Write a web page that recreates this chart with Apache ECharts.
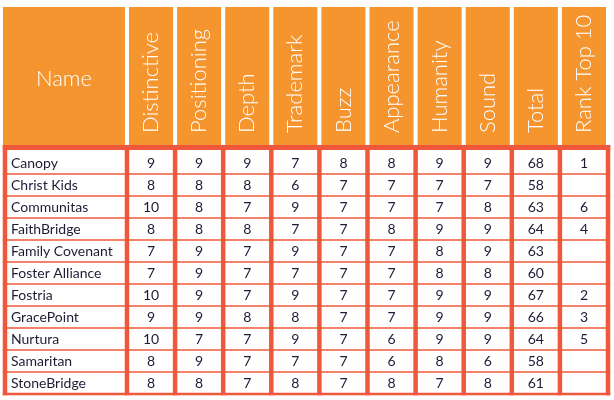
<!DOCTYPE html>
<html>
<head>
<meta charset="utf-8">
<style>
  html, body { margin: 0; padding: 0; background: #fff; }
  #chart { width: 614px; height: 400px; }
</style>
<script src="https://cdn.jsdelivr.net/npm/echarts@6/dist/echarts.min.js"></script>
</head>
<body>
<div id="chart"></div>
<script>
const names = ['Canopy', 'Christ Kids', 'Communitas', 'FaithBridge', 'Family Covenant',
  'Foster Alliance', 'Fostria', 'GracePoint', 'Nurtura', 'Samaritan', 'StoneBridge'];
const columns = ['Distinctive', 'Positioning', 'Depth', 'Trademark', 'Buzz',
  'Appearance', 'Humanity', 'Sound', 'Total', 'Rank Top 10'];

const distinctive = [9, 8, 10, 8, 7, 7, 10, 9, 10, 8, 8];
const positioning = [9, 8, 8, 8, 9, 9, 9, 9, 7, 9, 8];
const depth       = [9, 8, 7, 8, 7, 7, 7, 8, 7, 7, 7];
const trademark   = [7, 6, 9, 7, 9, 7, 9, 8, 9, 7, 8];
const buzz        = [8, 7, 7, 7, 7, 7, 7, 7, 7, 7, 7];
const appearance  = [8, 7, 7, 8, 7, 7, 7, 7, 6, 6, 8];
const humanity    = [9, 7, 7, 9, 8, 8, 9, 9, 9, 8, 7];
const sound       = [9, 7, 8, 9, 9, 8, 9, 9, 9, 6, 8];
const total       = [68, 58, 63, 64, 63, 60, 67, 66, 64, 58, 61];
const rankTop10   = [1, null, 6, 4, null, null, 2, 3, 5, null, null];

const valueCols = [distinctive, positioning, depth, trademark, buzz,
  appearance, humanity, sound, total, rankTop10];

const ORANGE = '#f4952f';
const RED = '#ef583a';
const INK = '#1c1c34';
const NAME_W = 2.536; // name column width, in score-column units

// one entry per table cell: [column, row, text]; column -1 is the name column
const cells = [];
names.forEach((n, r) => {
  cells.push([-1, r, n]);
  valueCols.forEach((col, c) => {
    if (col[r] != null) cells.push([c, r, String(col[r])]);
  });
});

function colEdges(c) {
  return c < 0 ? [-NAME_W, 0] : [c, c + 1];
}

function txtStyle(text, font, align) {
  return {
    text: text, fill: font.fill, font: font.font,
    align: align, verticalAlign: 'middle',
    textAlign: align, textVerticalAlign: 'middle'
  };
}

const chart = echarts.init(document.getElementById('chart'));

chart.setOption({
  animation: false,
  grid: [
    { left: 5, right: 6, top: 7, height: 138 },
    { left: 5, right: 6, top: 152, height: 242 }
  ],
  xAxis: [
    { gridIndex: 0, type: 'value', min: -NAME_W, max: 10, show: false },
    { gridIndex: 1, type: 'value', min: -NAME_W, max: 10, show: false }
  ],
  yAxis: [
    { gridIndex: 0, type: 'value', min: 0, max: 1, show: false },
    { gridIndex: 1, type: 'value', min: 0, max: names.length, inverse: true, show: false }
  ],
  series: [
    {
      // header cells
      type: 'custom',
      xAxisIndex: 0, yAxisIndex: 0,
      data: [-1].concat(columns.map((_, i) => i)).map(c => [c]),
      renderItem: function (params, api) {
        const c = api.value(0);
        const e = colEdges(c);
        const x0 = api.coord([e[0], 0])[0] + (c < 0 ? -2 : 2);
        const x1 = api.coord([e[1], 0])[0] - 2;
        const top = api.coord([0, 1])[1];
        const bottom = api.coord([0, 0])[1];
        const label = c < 0 ? 'Name' : columns[c];
        const font = { fill: '#fff', font: '300 22px Lato' };
        let text;
        if (c < 0) {
          text = { type: 'text', x: (x0 + x1) / 2, y: (top + bottom) / 2 + 3,
            style: txtStyle(label, font, 'center') };
        } else {
          text = { type: 'text', x: (x0 + x1) / 2, y: bottom - 12, rotation: Math.PI / 2,
            style: txtStyle(label, font, 'left') };
        }
        return {
          type: 'group',
          children: [
            { type: 'rect', shape: { x: x0, y: top, width: x1 - x0, height: bottom - top },
              style: { fill: ORANGE } },
            text
          ]
        };
      }
    },
    {
      // horizontal rules
      type: 'custom',
      xAxisIndex: 1, yAxisIndex: 1,
      data: names.map((_, i) => [i]).concat([[names.length]]),
      renderItem: function (params, api) {
        const r = api.value(0);
        let y = api.coord([0, r])[1];
        let w = 1.5;
        if (r === 0) { y -= 4.5; w = 5; }
        if (r === names.length) { w = 2.5; }
        const x0 = api.coord([-NAME_W, 0])[0] - 2.25;
        const x1 = api.coord([10, 0])[0] + 2.25;
        return { type: 'line', shape: { x1: x0, y1: y, x2: x1, y2: y },
          style: { stroke: RED, lineWidth: w } };
      }
    },
    {
      // vertical rules
      type: 'custom',
      xAxisIndex: 1, yAxisIndex: 1,
      data: [[-NAME_W]].concat(columns.map((_, i) => [i]), [[10]]),
      renderItem: function (params, api) {
        const x = api.coord([api.value(0), 0])[0];
        const y0 = api.coord([0, 0])[1] - 7;
        const y1 = api.coord([0, names.length])[1] + 1.25;
        return { type: 'line', shape: { x1: x, y1: y0, x2: x, y2: y1 },
          style: { stroke: RED, lineWidth: 4.5 } };
      }
    },
    {
      // cell texts
      type: 'custom',
      xAxisIndex: 1, yAxisIndex: 1,
      data: cells.map(d => [d[0], d[1]]),
      renderItem: function (params, api) {
        const c = api.value(0), r = api.value(1);
        const y = api.coord([0, r + 0.5])[1];
        const font = { fill: INK, font: '14px Lato' };
        if (c < 0) {
          return { type: 'text', x: api.coord([-NAME_W, 0])[0] + 6, y: y,
            style: txtStyle(cells[params.dataIndex][2], font, 'left') };
        }
        return { type: 'text', x: api.coord([c + 0.5, 0])[0], y: y,
          style: txtStyle(cells[params.dataIndex][2], font, 'center') };
      }
    }
  ]
});
</script>
</body>
</html>
